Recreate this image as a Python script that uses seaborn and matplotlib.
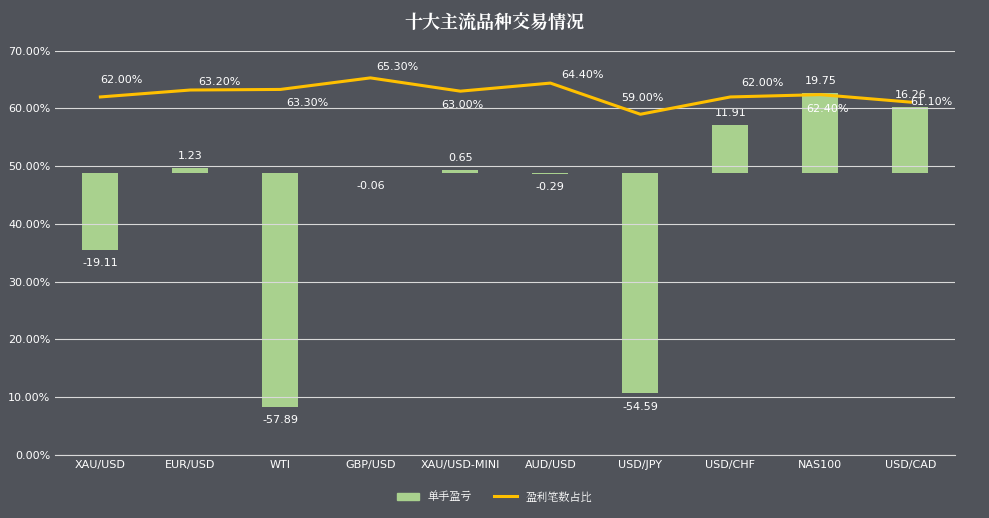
import matplotlib
matplotlib.use("Agg")
import matplotlib.pyplot as plt
from matplotlib import font_manager as fm
import seaborn as sns
import pandas as pd
import numpy as np
from matplotlib.ticker import PercentFormatter
from matplotlib.patches import Patch
from matplotlib.lines import Line2D

categories = ["XAU/USD", "EUR/USD", "WTI", "GBP/USD", "XAU/USD-MINI", "AUD/USD",
              "USD/JPY", "USD/CHF", "NAS100", "USD/CAD"]
pnl_per_lot = [-19.11, 1.23, -57.89, -0.06, 0.65, -0.29, -54.59, 11.91, 19.75, 16.26]
win_ratio = [62.00, 63.20, 63.30, 65.30, 63.00, 64.40, 59.00, 62.00, 62.40, 61.10]

df = pd.DataFrame({"cat": categories, "pnl": pnl_per_lot, "win": win_ratio})

cjk = None
for f in fm.fontManager.ttflist:
    if "CJK" in f.name and ("SC" in f.name or cjk is None):
        cjk = f.name
        if "SC" in f.name:
            break
if cjk is None:
    for p in fm.findSystemFonts():
        if "CJK" in p:
            fm.fontManager.addfont(p)
            cjk = fm.FontProperties(fname=p).get_name()
            break
cjk_prop = fm.FontProperties(family=cjk) if cjk else None

bg = "#50535a"
fig = plt.figure(figsize=(9.89, 5.18), dpi=100, facecolor=bg)
ax = fig.add_axes([0.056, 0.122, 0.91, 0.78], facecolor=bg)
ax2 = ax.twinx()

x = np.arange(len(categories))
sns.barplot(data=df, x="cat", y="pnl", ax=ax2, color="#a9d18e", saturation=1, width=0.4)
ax2.set_ylim(-69.8, 30.2)
ax2.axis("off")

ax.plot(x, df["win"], color="#ffc000", lw=2.2)
ax.set_ylim(0, 70)
ax.set_xlim(-0.5, len(categories) - 0.5)
ax.set_yticks(np.arange(0, 71, 10))
ax.yaxis.set_major_formatter(PercentFormatter(decimals=2))
ax.set_xticks(x)
ax.set_xticklabels(categories)
ax.grid(axis="y", color="#d9d9d9", lw=0.8)
ax.tick_params(colors="white", labelsize=8, length=0)
for s in ax.spines.values():
    s.set_visible(False)
ax.spines["bottom"].set_visible(True)
ax.spines["bottom"].set_color("#d9d9d9")
ax.set_zorder(ax2.get_zorder() + 1)
ax.patch.set_visible(False)

for i, v in enumerate(pnl_per_lot):
    if v >= 0:
        ax2.annotate(f"{v:.2f}", (i, v), xytext=(0, 5), textcoords="offset points",
                     ha="center", va="bottom", color="white", fontsize=8)
    else:
        ax2.annotate(f"{v:.2f}", (i, v), xytext=(0, -6), textcoords="offset points",
                     ha="center", va="top", color="white", fontsize=8)

offs = [(0, 12), (6, 6), (4, -10), (4, 8), (-14, -10), (8, 6), (-14, 12), (8, 10), (-10, -10), (0, 0)]
for i, v in enumerate(win_ratio):
    dx, dy = offs[i]
    ax.annotate(f"{v:.2f}%", (i, v), xytext=(dx, dy), textcoords="offset points",
                ha="left", va="center", color="white", fontsize=8)

fig.text(0.5, 0.955, "十大主流品种交易情况", ha="center", va="center", color="white",
         fontsize=13, fontweight="bold", fontproperties=None, family=cjk)
handles = [Patch(color="#a9d18e", label="单手盈亏"),
           Line2D([0], [0], color="#ffc000", lw=2.2, label="盈利笔数占比")]
fig.legend(handles=handles, loc="center", bbox_to_anchor=(0.5, 0.04), ncol=2,
           frameon=False, labelcolor="white", prop=fm.FontProperties(family=cjk, size=8))
fig.savefig("out.png", dpi=100, facecolor=bg)
